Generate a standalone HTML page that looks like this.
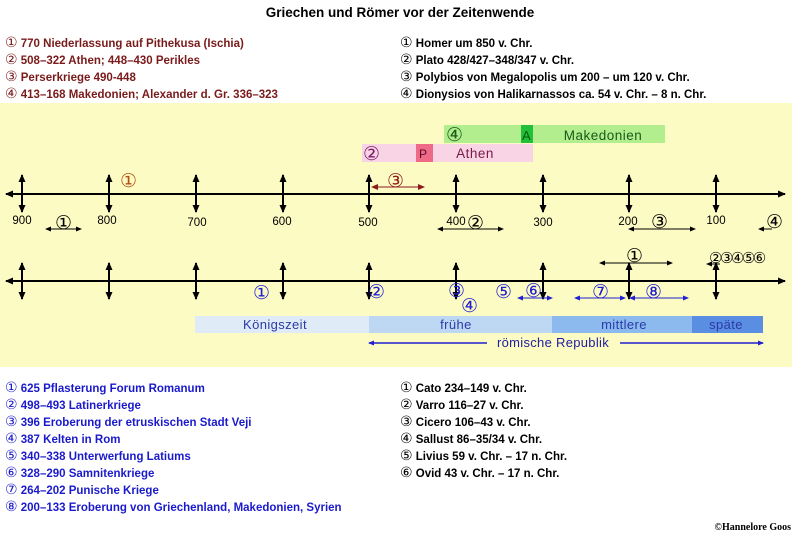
<!DOCTYPE html>
<html><head><meta charset="utf-8"><style>
body{margin:0;background:#fff;width:800px;height:537px;overflow:hidden}
svg{display:block;font-family:"Liberation Sans","DejaVu Sans",sans-serif}
.b{font-weight:bold;font-size:11.5px}
.c{font-family:"DejaVu Sans",sans-serif;font-size:19px}
.n{font-size:11.5px}
.d{font-family:"DejaVu Sans",sans-serif;font-size:14px;font-weight:normal}
</style></head><body>
<svg width="800" height="537" viewBox="0 0 800 537">
<defs>
<marker id="ah" markerWidth="8" markerHeight="8" refX="7" refY="4" orient="auto-start-reverse" markerUnits="userSpaceOnUse"><path d="M0,0.5 L8,4 L0,7.5 Z" fill="#000"/></marker>
<marker id="as" markerWidth="6" markerHeight="6" refX="5" refY="3" orient="auto-start-reverse" markerUnits="userSpaceOnUse"><path d="M0,0.5 L6,3 L0,5.5 Z" fill="#000"/></marker>
<marker id="ar" markerWidth="7" markerHeight="7" refX="6" refY="3.5" orient="auto-start-reverse" markerUnits="userSpaceOnUse"><path d="M0,0.5 L7,3.5 L0,6.5 Z" fill="#8b1a1a"/></marker>
<marker id="ab" markerWidth="6" markerHeight="6" refX="5" refY="3" orient="auto-start-reverse" markerUnits="userSpaceOnUse"><path d="M0,0.5 L6,3 L0,5.5 Z" fill="#2020d0"/></marker>
</defs>
<text x="400" y="17" text-anchor="middle" font-weight="bold" font-size="13.5">Griechen und Römer vor der Zeitenwende</text>
<g class="b" fill="#7a1a1a">
<text x="5" y="47"><tspan class="d">①</tspan> 770 Niederlassung auf Pithekusa (Ischia)</text>
<text x="5" y="64"><tspan class="d">②</tspan> 508–322 Athen; 448–430  Perikles</text>
<text x="5" y="81"><tspan class="d">③</tspan> Perserkriege 490-448</text>
<text x="5" y="98"><tspan class="d">④</tspan> 413–168 Makedonien; Alexander d. Gr. 336–323</text>
</g>
<g class="b" fill="#000">
<text x="400" y="47"><tspan class="d">①</tspan> Homer um 850 v. Chr.</text>
<text x="400" y="64"><tspan class="d">②</tspan> Plato 428/427–348/347 v. Chr.</text>
<text x="400" y="81"><tspan class="d">③</tspan> Polybios von Megalopolis um 200 – um 120 v. Chr.</text>
<text x="400" y="98"><tspan class="d">④</tspan> Dionysios von Halikarnassos ca. 54 v. Chr. – 8 n. Chr.</text>
</g>
<rect x="0" y="103" width="792" height="264" fill="#fdfbc4"/>
<rect x="444" y="125" width="221" height="18" fill="#b2ee8e"/>
<rect x="521" y="125" width="12" height="18" fill="#22c03a"/>
<text x="446" y="141" class="c" fill="#1a5a1a">④</text>
<text x="522" y="140" font-size="13" fill="#0a5a0a">A</text>
<text x="603" y="140" font-size="13.5" text-anchor="middle" fill="#1a5a1a" letter-spacing="0.5">Makedonien</text>
<rect x="362" y="144" width="171" height="18" fill="#f8d4e4"/>
<rect x="416" y="144" width="17" height="18" fill="#ee6a86"/>
<text x="363" y="160" class="c" fill="#7a1a6a">②</text>
<text x="419" y="158" font-size="12" fill="#5a0a2a">P</text>
<text x="475" y="158" font-size="13.5" text-anchor="middle" fill="#7a1a4a" letter-spacing="0.5">Athen</text>
<line x1="6" y1="194" x2="785" y2="194" stroke="#000" stroke-width="2" marker-start="url(#ah)" marker-end="url(#ah)"/>
<g stroke="#000" stroke-width="2">
<line x1="22" y1="175" x2="22" y2="212" marker-start="url(#ah)" marker-end="url(#ah)"/>
<line x1="109" y1="175" x2="109" y2="212" marker-start="url(#ah)" marker-end="url(#ah)"/>
<line x1="196" y1="175" x2="196" y2="212" marker-start="url(#ah)" marker-end="url(#ah)"/>
<line x1="283" y1="175" x2="283" y2="212" marker-start="url(#ah)" marker-end="url(#ah)"/>
<line x1="369" y1="175" x2="369" y2="212" marker-start="url(#ah)" marker-end="url(#ah)"/>
<line x1="456" y1="175" x2="456" y2="212" marker-start="url(#ah)" marker-end="url(#ah)"/>
<line x1="543" y1="175" x2="543" y2="212" marker-start="url(#ah)" marker-end="url(#ah)"/>
<line x1="629" y1="175" x2="629" y2="212" marker-start="url(#ah)" marker-end="url(#ah)"/>
<line x1="716" y1="175" x2="716" y2="212" marker-start="url(#ah)" marker-end="url(#ah)"/>
</g>
<g class="n" text-anchor="middle">
<text x="22" y="224">900</text><text x="107" y="224">800</text><text x="197" y="226">700</text>
<text x="282" y="225">600</text><text x="368" y="226">500</text><text x="456" y="225">400</text>
<text x="543" y="226">300</text><text x="628" y="225">200</text><text x="716" y="224">100</text>
</g>
<text x="120" y="187" class="c" fill="#b05010">①</text>
<line x1="372" y1="187" x2="424" y2="187" stroke="#8b1a1a" stroke-width="1" marker-start="url(#ar)" marker-end="url(#ar)"/>
<text x="387" y="187" class="c" fill="#8b1a1a">③</text>
<g stroke="#000" stroke-width="1">
<line x1="46" y1="229" x2="81" y2="229" marker-start="url(#as)" marker-end="url(#as)"/>
<line x1="438" y1="229" x2="503" y2="229" marker-start="url(#as)" marker-end="url(#as)"/>
<line x1="629" y1="229" x2="695" y2="229" marker-start="url(#as)" marker-end="url(#as)"/>
<line x1="759" y1="229" x2="772" y2="229" marker-start="url(#as)"/>
</g>
<g class="c">
<text x="55" y="229">①</text><text x="467" y="229">②</text><text x="651" y="228">③</text><text x="766" y="228">④</text>
</g>
<line x1="6" y1="281" x2="785" y2="281" stroke="#000" stroke-width="2" marker-start="url(#ah)" marker-end="url(#ah)"/>
<g stroke="#000" stroke-width="2">
<line x1="22" y1="263" x2="22" y2="299" marker-start="url(#ah)" marker-end="url(#ah)"/>
<line x1="109" y1="263" x2="109" y2="299" marker-start="url(#ah)" marker-end="url(#ah)"/>
<line x1="196" y1="263" x2="196" y2="299" marker-start="url(#ah)" marker-end="url(#ah)"/>
<line x1="283" y1="263" x2="283" y2="299" marker-start="url(#ah)" marker-end="url(#ah)"/>
<line x1="369" y1="263" x2="369" y2="299" marker-start="url(#ah)" marker-end="url(#ah)"/>
<line x1="456" y1="263" x2="456" y2="299" marker-start="url(#ah)" marker-end="url(#ah)"/>
<line x1="543" y1="263" x2="543" y2="299" marker-start="url(#ah)" marker-end="url(#ah)"/>
<line x1="629" y1="263" x2="629" y2="299" marker-start="url(#ah)" marker-end="url(#ah)"/>
<line x1="716" y1="263" x2="716" y2="299" marker-start="url(#ah)" marker-end="url(#ah)"/>
</g>
<g stroke="#000" stroke-width="1">
<line x1="600" y1="263" x2="672" y2="263" marker-start="url(#as)" marker-end="url(#as)"/>
<line x1="707" y1="264" x2="720" y2="264" marker-start="url(#as)"/>
</g>
<text x="626" y="262" class="c">①</text>
<text x="709" y="263" font-family="DejaVu Sans" font-size="15" letter-spacing="-2.5">②③④⑤⑥</text>
<g stroke="#2020d0" stroke-width="1">
<line x1="518" y1="298" x2="552" y2="298" marker-start="url(#ab)" marker-end="url(#ab)"/>
<line x1="575" y1="298" x2="625" y2="298" marker-start="url(#ab)" marker-end="url(#ab)"/>
<line x1="630" y1="298" x2="688" y2="298" marker-start="url(#ab)" marker-end="url(#ab)"/>
</g>
<g class="c" fill="#2020d0">
<text x="253" y="299">①</text><text x="368" y="298">②</text><text x="448" y="297">③</text>
<text x="461" y="312">④</text><text x="495" y="298">⑤</text><text x="525" y="297">⑥</text>
<text x="592" y="298">⑦</text><text x="645" y="298">⑧</text>
</g>
<rect x="195" y="316" width="174" height="17" fill="#e0ebf8"/>
<rect x="369" y="316" width="183" height="17" fill="#bed8f4"/>
<rect x="552" y="316" width="140" height="17" fill="#8cbaee"/>
<rect x="692" y="316" width="71" height="17" fill="#5a8ee2"/>
<g font-size="13" fill="#2a3aa8" text-anchor="middle" letter-spacing="0.4">
<text x="275" y="329">Königszeit</text><text x="456" y="329">frühe</text>
<text x="624" y="329">mittlere</text><text x="726" y="329">späte</text>
</g>
<line x1="369" y1="343" x2="487" y2="343" stroke="#2020d0" stroke-width="1.5" marker-start="url(#ab)"/>
<line x1="620" y1="343" x2="763" y2="343" stroke="#2020d0" stroke-width="1.5" marker-end="url(#ab)"/>
<text x="553" y="347" font-size="13" fill="#2020a0" text-anchor="middle" letter-spacing="0.3">römische Republik</text>
<g class="b" fill="#1a1acc">
<text x="5" y="392"><tspan class="d">①</tspan> 625 Pflasterung Forum Romanum</text>
<text x="5" y="409"><tspan class="d">②</tspan> 498–493 Latinerkriege</text>
<text x="5" y="426"><tspan class="d">③</tspan> 396 Eroberung der etruskischen Stadt Veji</text>
<text x="5" y="443"><tspan class="d">④</tspan> 387 Kelten in Rom</text>
<text x="5" y="460"><tspan class="d">⑤</tspan> 340–338 Unterwerfung Latiums</text>
<text x="5" y="477"><tspan class="d">⑥</tspan> 328–290  Samnitenkriege</text>
<text x="5" y="494"><tspan class="d">⑦</tspan> 264–202 Punische Kriege</text>
<text x="5" y="511"><tspan class="d">⑧</tspan> 200–133 Eroberung von Griechenland, Makedonien, Syrien</text>
</g>
<g class="b" fill="#000">
<text x="400" y="392"><tspan class="d">①</tspan> Cato 234–149 v. Chr.</text>
<text x="400" y="409"><tspan class="d">②</tspan> Varro 116–27 v. Chr.</text>
<text x="400" y="426"><tspan class="d">③</tspan> Cicero 106–43 v. Chr.</text>
<text x="400" y="443"><tspan class="d">④</tspan> Sallust 86–35/34 v. Chr.</text>
<text x="400" y="460"><tspan class="d">⑤</tspan> Livius 59 v. Chr. – 17 n. Chr.</text>
<text x="400" y="477"><tspan class="d">⑥</tspan> Ovid 43 v. Chr. – 17 n. Chr.</text>
</g>
<text x="791" y="530" text-anchor="end" font-family="Liberation Serif,serif" font-weight="bold" font-size="10">©Hannelore Goos</text>
</svg>
</body></html>
